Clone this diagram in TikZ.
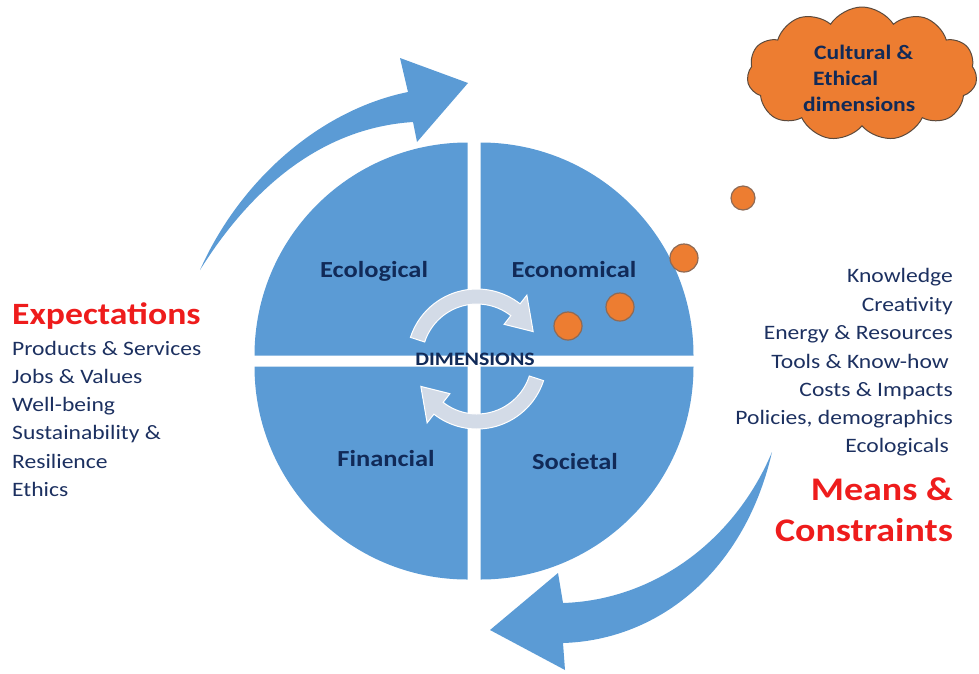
\documentclass[tikz,border=0pt]{standalone}
\usepackage{fontspec}
\setmainfont{Carlito}[FakeStretch=1.15]
\usetikzlibrary{shapes.symbols}
\definecolor{qblue}{HTML}{5B9BD5}
\definecolor{navy}{HTML}{1C3060}
\definecolor{labnavy}{HTML}{112A58}
\definecolor{hotred}{HTML}{EE1C1C}
\definecolor{orng}{HTML}{ED7D31}
\definecolor{ringfill}{HTML}{D3DBE7}
\definecolor{dotedge}{HTML}{8E6A55}
\definecolor{cloudedge}{HTML}{5C4A3C}
\begin{document}
\begin{tikzpicture}[x=1pt,y=-1pt,
  quad/.style={fill=qblue},
  bigarrow/.style={fill=qblue},
  ringarrow/.style={fill=ringfill, draw=white, line width=1pt},
  lbl/.style={font=\bfseries\fontsize{23}{26}\selectfont, text=labnavy, inner sep=0pt, anchor=base},
  item/.style={font=\fontsize{20.5}{24}\selectfont, text=navy, inner sep=0pt},
  headline/.style={font=\bfseries\fontsize{31}{34}\selectfont, text=hotred, inner sep=0pt},
  cloudtxt/.style={font=\bfseries\fontsize{20.5}{23}\selectfont, text=labnavy, inner sep=0pt, anchor=base west},
  dot/.style={circle, fill=orng, draw=dotedge, line width=1.2pt, inner sep=0pt}]
\useasboundingbox (0,0) rectangle (979,673);

% four quarter discs
\fill[quad] (467.5,355.5) -- ++(-213,0) arc (180:270:213) -- cycle;
\fill[quad] (480.5,355.5) -- ++(0,-213) arc (270:360:213) -- cycle;
\fill[quad] (480.5,366.5) -- ++(213,0) arc (0:90:213) -- cycle;
\fill[quad] (467.5,366.5) -- ++(0,213) arc (90:180:213) -- cycle;

% central cycle arrows
\begin{scope}[shift={(477,359)}]
  \filldraw[ringarrow] (198:70) arc (198:308:70) -- (308:81) -- (334:62.5)
    -- (308:44) -- (308:55) arc (308:198:55) -- cycle;
  \filldraw[ringarrow] (18:70) arc (18:128:70) -- (128:81) -- (154:62.5)
    -- (128:44) -- (128:55) arc (128:18:55) -- cycle;
\end{scope}

% outer curved arrows
\fill[bigarrow] (200,270) .. controls (240,180) and (320,110) .. (408,92)
  -- (400,58) -- (468,83) -- (417,142) -- (413,122)
  .. controls (320,128) and (250,190) .. (200,270) -- cycle;
\fill[bigarrow] (772,452) .. controls (745,570) and (660,640) .. (563,643)
  -- (565,670) -- (490,630) -- (558,573) -- (563,603)
  .. controls (655,600) and (735,540) .. (772,452) -- cycle;

% quadrant labels
\node[lbl] (eco) at (374,277) {Ecological};
\node[lbl] (econ) at (574,277) {Economical};
\node[lbl] (fin) at (386,466) {Financial};
\node[lbl] (soc) at (575,469) {Societal};
\node[font=\bfseries\fontsize{19}{22}\selectfont, text=labnavy, inner sep=0pt] (dim) at (475,359) {DIMENSIONS};

% orange bubbles
\node[dot, minimum size=28pt] (d1) at (568,326) {};
\node[dot, minimum size=28pt] (d2) at (620,307) {};
\node[dot, minimum size=28pt] (d3) at (684,258) {};
\node[dot, minimum size=24pt] (d4) at (743,198) {};

% cloud
\node[cloud, cloud puffs=11, cloud puff arc=115, aspect=1.7,
      minimum width=230pt, minimum height=134pt,
      fill=orng, draw=cloudedge, line width=1pt] (cloud) at (862,74) {};
\node[cloudtxt] (cl1) at (814,59) {Cultural \&};
\node[cloudtxt] (cl2) at (813,85) {Ethical};
\node[cloudtxt] (cl3) at (803,111) {dimensions};

% left block
\node[headline, anchor=base west] (expect) at (12,324) {Expectations};
\node[item, anchor=base west] (e1) at (12,355) {Products \& Services};
\node[item, anchor=base west] (e2) at (12,383) {Jobs \& Values};
\node[item, anchor=base west] (e3) at (12,411) {Well-being};
\node[item, anchor=base west] (e4) at (12,439) {Sustainability \&};
\node[item, anchor=base west] (e5) at (12,468) {Resilience};
\node[item, anchor=base west] (e6) at (12,496) {Ethics};

% right block
\node[item, anchor=base east] (m1) at (953,282) {Knowledge};
\node[item, anchor=base east] (m2) at (953,311) {Creativity};
\node[item, anchor=base east] (m3) at (953,339) {Energy \& Resources};
\node[item, anchor=base east] (m4) at (949,368) {Tools \& Know-how};
\node[item, anchor=base east] (m5) at (953,396) {Costs \& Impacts};
\node[item, anchor=base east] (m6) at (953,424) {Policies, demographics};
\node[item, anchor=base east] (m7) at (949,452) {Ecologicals};
\node[headline, anchor=base east, font=\bfseries\fontsize{33}{36}\selectfont] (means) at (953,500) {Means \&};
\node[headline, anchor=base east, font=\bfseries\fontsize{33}{36}\selectfont] (constr) at (953,541) {Constraints};
\end{tikzpicture}
\end{document}
